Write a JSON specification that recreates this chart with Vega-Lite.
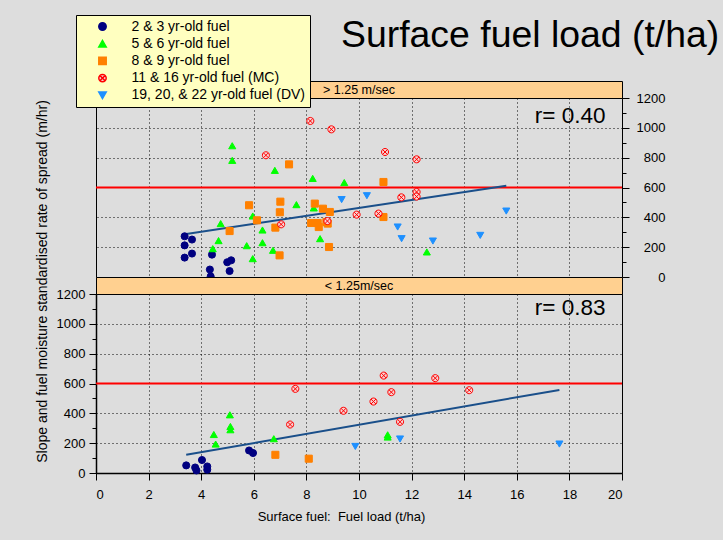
{
  "$schema": "https://vega.github.io/schema/vega-lite/v6.json",
  "background": "#DDDDDD",
  "autosize": {"type": "pad"},
  "padding": {"left": 34, "top": 14, "right": 8, "bottom": 16},
  "bounds": "flush",
  "spacing": 0,
  "config": {
    "font": "Liberation Sans",
    "view": {"stroke": "black", "strokeWidth": 1},
    "axis": {"labelFont": "Liberation Sans", "titleFont": "Liberation Sans", "labelColor": "black", "titleColor": "black", "domainColor": "black", "tickColor": "black", "titleFontWeight": "normal", "labelFontSize": 13, "labelOverlap": false},
    "concat": {"spacing": 0}
  },
  "datasets": {
    "strips": [
      {"p": "top", "label": "> 1.25 m/sec"},
      {"p": "bottom", "label": "< 1.25m/sec"}
    ],
    "refs": [
      {"p": "top", "y": 600},
      {"p": "bottom", "y": 600}
    ],
    "fits": [
      {"p": "top", "x": 3.37, "y": 287},
      {"p": "top", "x": 15.6, "y": 612},
      {"p": "bottom", "x": 3.43, "y": 122},
      {"p": "bottom", "x": 17.62, "y": 557}
    ],
    "rlabels": [
      {"p": "top", "x": 19.37, "y": 1032, "t": "r= 0.40"},
      {"p": "bottom", "x": 19.37, "y": 1060, "t": "r= 0.83"}
    ],
    "pts": [
      {"p": "top", "s": "2 & 3 yr-old fuel", "x": 3.37, "y": 273},
      {"p": "top", "s": "2 & 3 yr-old fuel", "x": 3.65, "y": 251},
      {"p": "top", "s": "2 & 3 yr-old fuel", "x": 3.37, "y": 212},
      {"p": "top", "s": "2 & 3 yr-old fuel", "x": 3.65, "y": 157},
      {"p": "top", "s": "2 & 3 yr-old fuel", "x": 3.37, "y": 130},
      {"p": "top", "s": "2 & 3 yr-old fuel", "x": 4.41, "y": 150},
      {"p": "top", "s": "2 & 3 yr-old fuel", "x": 4.99, "y": 99},
      {"p": "top", "s": "2 & 3 yr-old fuel", "x": 5.14, "y": 112},
      {"p": "top", "s": "2 & 3 yr-old fuel", "x": 5.08, "y": 40},
      {"p": "top", "s": "2 & 3 yr-old fuel", "x": 4.33, "y": 50},
      {"p": "top", "s": "2 & 3 yr-old fuel", "x": 4.36, "y": 4},
      {"p": "top", "s": "5 & 6 yr-old fuel", "x": 5.18, "y": 880},
      {"p": "top", "s": "5 & 6 yr-old fuel", "x": 5.18, "y": 782},
      {"p": "top", "s": "5 & 6 yr-old fuel", "x": 6.8, "y": 715},
      {"p": "top", "s": "5 & 6 yr-old fuel", "x": 8.24, "y": 661},
      {"p": "top", "s": "5 & 6 yr-old fuel", "x": 9.44, "y": 633},
      {"p": "top", "s": "5 & 6 yr-old fuel", "x": 7.62, "y": 485},
      {"p": "top", "s": "5 & 6 yr-old fuel", "x": 8.28, "y": 463},
      {"p": "top", "s": "5 & 6 yr-old fuel", "x": 5.96, "y": 409},
      {"p": "top", "s": "5 & 6 yr-old fuel", "x": 4.74, "y": 358},
      {"p": "top", "s": "5 & 6 yr-old fuel", "x": 6.33, "y": 315},
      {"p": "top", "s": "5 & 6 yr-old fuel", "x": 4.66, "y": 244},
      {"p": "top", "s": "5 & 6 yr-old fuel", "x": 6.33, "y": 230},
      {"p": "top", "s": "5 & 6 yr-old fuel", "x": 5.73, "y": 210},
      {"p": "top", "s": "5 & 6 yr-old fuel", "x": 4.44, "y": 190},
      {"p": "top", "s": "5 & 6 yr-old fuel", "x": 6.73, "y": 179},
      {"p": "top", "s": "5 & 6 yr-old fuel", "x": 5.96, "y": 123},
      {"p": "top", "s": "5 & 6 yr-old fuel", "x": 8.52, "y": 257},
      {"p": "top", "s": "5 & 6 yr-old fuel", "x": 12.58, "y": 168},
      {"p": "top", "s": "8 & 9 yr-old fuel", "x": 7.34, "y": 755},
      {"p": "top", "s": "8 & 9 yr-old fuel", "x": 5.82, "y": 481},
      {"p": "top", "s": "8 & 9 yr-old fuel", "x": 7.01, "y": 505},
      {"p": "top", "s": "8 & 9 yr-old fuel", "x": 6.99, "y": 434},
      {"p": "top", "s": "8 & 9 yr-old fuel", "x": 8.32, "y": 492},
      {"p": "top", "s": "8 & 9 yr-old fuel", "x": 8.63, "y": 458},
      {"p": "top", "s": "8 & 9 yr-old fuel", "x": 8.89, "y": 436},
      {"p": "top", "s": "8 & 9 yr-old fuel", "x": 6.12, "y": 380},
      {"p": "top", "s": "8 & 9 yr-old fuel", "x": 6.82, "y": 331},
      {"p": "top", "s": "8 & 9 yr-old fuel", "x": 5.08, "y": 308},
      {"p": "top", "s": "8 & 9 yr-old fuel", "x": 8.18, "y": 362},
      {"p": "top", "s": "8 & 9 yr-old fuel", "x": 8.43, "y": 362},
      {"p": "top", "s": "8 & 9 yr-old fuel", "x": 8.76, "y": 369},
      {"p": "top", "s": "8 & 9 yr-old fuel", "x": 8.47, "y": 335},
      {"p": "top", "s": "8 & 9 yr-old fuel", "x": 8.81, "y": 358},
      {"p": "top", "s": "8 & 9 yr-old fuel", "x": 6.98, "y": 145},
      {"p": "top", "s": "8 & 9 yr-old fuel", "x": 8.86, "y": 201},
      {"p": "top", "s": "8 & 9 yr-old fuel", "x": 10.93, "y": 637},
      {"p": "top", "s": "8 & 9 yr-old fuel", "x": 10.93, "y": 402},
      {"p": "top", "s": "11 & 16 yr-old fuel (MC)", "x": 8.15, "y": 1046},
      {"p": "top", "s": "11 & 16 yr-old fuel (MC)", "x": 8.95, "y": 990},
      {"p": "top", "s": "11 & 16 yr-old fuel (MC)", "x": 6.46, "y": 816},
      {"p": "top", "s": "11 & 16 yr-old fuel (MC)", "x": 9.91, "y": 418},
      {"p": "top", "s": "11 & 16 yr-old fuel (MC)", "x": 7.04, "y": 353},
      {"p": "top", "s": "11 & 16 yr-old fuel (MC)", "x": 10.99, "y": 838},
      {"p": "top", "s": "11 & 16 yr-old fuel (MC)", "x": 12.19, "y": 789},
      {"p": "top", "s": "11 & 16 yr-old fuel (MC)", "x": 12.19, "y": 570},
      {"p": "top", "s": "11 & 16 yr-old fuel (MC)", "x": 12.19, "y": 539},
      {"p": "top", "s": "11 & 16 yr-old fuel (MC)", "x": 11.61, "y": 534},
      {"p": "top", "s": "11 & 16 yr-old fuel (MC)", "x": 10.74, "y": 425},
      {"p": "top", "s": "11 & 16 yr-old fuel (MC)", "x": 8.8, "y": 375},
      {"p": "top", "s": "19, 20, & 22 yr-old fuel (DV)", "x": 9.34, "y": 519},
      {"p": "top", "s": "19, 20, & 22 yr-old fuel (DV)", "x": 10.3, "y": 545},
      {"p": "top", "s": "19, 20, & 22 yr-old fuel (DV)", "x": 11.47, "y": 335},
      {"p": "top", "s": "19, 20, & 22 yr-old fuel (DV)", "x": 11.62, "y": 257},
      {"p": "top", "s": "19, 20, & 22 yr-old fuel (DV)", "x": 12.81, "y": 241},
      {"p": "top", "s": "19, 20, & 22 yr-old fuel (DV)", "x": 14.61, "y": 279},
      {"p": "top", "s": "19, 20, & 22 yr-old fuel (DV)", "x": 15.6, "y": 442},
      {"p": "bottom", "s": "2 & 3 yr-old fuel", "x": 3.43, "y": 51},
      {"p": "bottom", "s": "2 & 3 yr-old fuel", "x": 3.77, "y": 37},
      {"p": "bottom", "s": "2 & 3 yr-old fuel", "x": 3.82, "y": 17},
      {"p": "bottom", "s": "2 & 3 yr-old fuel", "x": 4.03, "y": 87},
      {"p": "bottom", "s": "2 & 3 yr-old fuel", "x": 4.23, "y": 44},
      {"p": "bottom", "s": "2 & 3 yr-old fuel", "x": 4.23, "y": 22},
      {"p": "bottom", "s": "2 & 3 yr-old fuel", "x": 5.82, "y": 151},
      {"p": "bottom", "s": "2 & 3 yr-old fuel", "x": 5.97, "y": 134},
      {"p": "bottom", "s": "5 & 6 yr-old fuel", "x": 5.09, "y": 390},
      {"p": "bottom", "s": "5 & 6 yr-old fuel", "x": 5.11, "y": 312},
      {"p": "bottom", "s": "5 & 6 yr-old fuel", "x": 5.11, "y": 290},
      {"p": "bottom", "s": "5 & 6 yr-old fuel", "x": 4.48, "y": 258},
      {"p": "bottom", "s": "5 & 6 yr-old fuel", "x": 4.55, "y": 194},
      {"p": "bottom", "s": "5 & 6 yr-old fuel", "x": 6.76, "y": 230},
      {"p": "bottom", "s": "5 & 6 yr-old fuel", "x": 11.09, "y": 256},
      {"p": "bottom", "s": "5 & 6 yr-old fuel", "x": 11.09, "y": 241},
      {"p": "bottom", "s": "8 & 9 yr-old fuel", "x": 6.82, "y": 122},
      {"p": "bottom", "s": "8 & 9 yr-old fuel", "x": 8.09, "y": 96},
      {"p": "bottom", "s": "11 & 16 yr-old fuel (MC)", "x": 7.58, "y": 564},
      {"p": "bottom", "s": "11 & 16 yr-old fuel (MC)", "x": 7.38, "y": 325},
      {"p": "bottom", "s": "11 & 16 yr-old fuel (MC)", "x": 9.41, "y": 417},
      {"p": "bottom", "s": "11 & 16 yr-old fuel (MC)", "x": 10.94, "y": 653},
      {"p": "bottom", "s": "11 & 16 yr-old fuel (MC)", "x": 12.9, "y": 636},
      {"p": "bottom", "s": "11 & 16 yr-old fuel (MC)", "x": 11.23, "y": 542},
      {"p": "bottom", "s": "11 & 16 yr-old fuel (MC)", "x": 10.55, "y": 479},
      {"p": "bottom", "s": "11 & 16 yr-old fuel (MC)", "x": 14.19, "y": 555},
      {"p": "bottom", "s": "11 & 16 yr-old fuel (MC)", "x": 11.56, "y": 343},
      {"p": "bottom", "s": "19, 20, & 22 yr-old fuel (DV)", "x": 9.86, "y": 178},
      {"p": "bottom", "s": "19, 20, & 22 yr-old fuel (DV)", "x": 11.56, "y": 228},
      {"p": "bottom", "s": "19, 20, & 22 yr-old fuel (DV)", "x": 17.62, "y": 194}
    ]
  },
  "resolve": {"scale": {"x": "independent", "y": "independent"}},
  "vconcat": [
    {
      "width": 526,
      "height": 17,
      "title": {"text": "Surface fuel load (t/ha)", "anchor": "start", "dx": 245, "fontSize": 37.4, "fontWeight": "normal", "font": "Liberation Sans", "baseline": "alphabetic", "offset": -3, "color": "black"},
      "view": {"fill": "#FFD090", "stroke": "black"},
      "data": {"name": "strips"},
      "transform": [{"filter": "datum.p === 'top'"}],
      "mark": {"type": "text", "fontSize": 12.5, "color": "black", "font": "Liberation Sans"},
      "encoding": {"text": {"field": "label", "type": "nominal"}}
    },
    {
      "width": 526,
      "height": 179,
      "resolve": {"axis": {"y": "independent"}},
      "layer": [
        {
          "data": {"name": "refs"},
          "transform": [{"filter": "datum.p === 'top'"}],
          "mark": {"type": "rule", "color": "#FF0000", "strokeWidth": 2},
          "encoding": {
            "y": {"field": "y", "type": "quantitative", "scale": {"domain": [0, 1200], "nice": false},
              "axis": {"orient": "right", "title": null, "format": "d", "values": [0,200,400,600,800,1000,1200],
                "labelOverlap": false, "tickSize": 7,
                "grid": true, "gridColor": "black", "gridDash": [1, 3], "gridWidth": 1,
                "gridOpacity": {"condition": {"test": "datum.value > 0 && datum.value < 1200 && datum.value !== 600", "value": 1}, "value": 0},
                "labelAlign": "right", "labelPadding": 36, "domain": false}}
          }
        },
        {
          "data": {"name": "fits"},
          "transform": [{"filter": "datum.p === 'top'"}],
          "mark": {"type": "line", "color": "#1A4F8A", "strokeWidth": 2},
          "encoding": {
            "x": {"field": "x", "type": "quantitative", "scale": {"domain": [0, 20], "nice": false},
              "axis": {"title": null, "values": [0,2,4,6,8,10,12,14,16,18,20], "labels": false, "ticks": false, "domain": false,
                "grid": true, "gridColor": "black", "gridDash": [1, 3], "gridWidth": 1,
                "gridOpacity": {"condition": {"test": "datum.value > 0 && datum.value < 20", "value": 1}, "value": 0}}},
            "y": {"field": "y", "type": "quantitative",
              "axis": {"orient": "right", "title": null, "values": [100,300,500,700,900,1100], "labels": false, "tickSize": 4, "grid": false, "domain": false}}
          }
        },
        {
          "data": {"name": "pts"},
          "transform": [{"filter": "datum.p === 'top'"}],
          "mark": {"type": "point", "opacity": 1, "strokeWidth": 1, "size": 50},
          "encoding": {
            "x": {"field": "x", "type": "quantitative"},
            "y": {"field": "y", "type": "quantitative", "axis": null},
            "shape": {"field": "s", "type": "nominal",
              "scale": {"domain": ["2 & 3 yr-old fuel", "5 & 6 yr-old fuel", "8 & 9 yr-old fuel", "11 & 16 yr-old fuel (MC)", "19, 20, & 22 yr-old fuel (DV)"],
                "range": ["circle", "triangle-up", "square", "M-1,0A1,1,0,1,1,1,0A1,1,0,1,1,-1,0ZM-0.7,-0.7L0.7,0.7M-0.7,0.7L0.7,-0.7", "triangle-down"]},
              "legend": {"orient": "none", "legendX": -20, "legendY": -66, "title": null, "fillColor": "#FFFFC0", "strokeColor": "black",
                "padding": 4.5, "labelFontSize": 14, "labelFont": "Liberation Sans", "labelColor": "black", "symbolSize": 55,
                "rowPadding": 3.2, "symbolOffset": 15, "labelOffset": 22, "labelLimit": 400}},
            "fill": {"field": "s", "type": "nominal",
              "scale": {"domain": ["2 & 3 yr-old fuel", "5 & 6 yr-old fuel", "8 & 9 yr-old fuel", "11 & 16 yr-old fuel (MC)", "19, 20, & 22 yr-old fuel (DV)"],
                "range": ["#000080", "#00FF00", "#FF8000", "#F6D2D2", "#1E90FF"]}},
            "stroke": {"field": "s", "type": "nominal",
              "scale": {"domain": ["2 & 3 yr-old fuel", "5 & 6 yr-old fuel", "8 & 9 yr-old fuel", "11 & 16 yr-old fuel (MC)", "19, 20, & 22 yr-old fuel (DV)"],
                "range": ["#000080", "#00FF00", "#FF8000", "#FF0000", "#1E90FF"]}}
          }
        },
        {
          "data": {"name": "rlabels"},
          "transform": [{"filter": "datum.p === 'top'"}],
          "mark": {"type": "text", "align": "right", "baseline": "alphabetic", "fontSize": 22.5, "color": "black", "font": "Liberation Sans"},
          "encoding": {
            "x": {"field": "x", "type": "quantitative"},
            "y": {"field": "y", "type": "quantitative", "axis": null},
            "text": {"field": "t", "type": "nominal"}
          }
        }
      ]
    },
    {
      "width": 526,
      "height": 17,
      "view": {"fill": "#FFD090", "stroke": "black"},
      "data": {"name": "strips"},
      "transform": [{"filter": "datum.p === 'bottom'"}],
      "mark": {"type": "text", "fontSize": 12.5, "color": "black", "font": "Liberation Sans"},
      "encoding": {"text": {"field": "label", "type": "nominal"}}
    },
    {
      "width": 526,
      "height": 179,
      "resolve": {"axis": {"y": "independent"}},
      "layer": [
        {
          "data": {"name": "refs"},
          "transform": [{"filter": "datum.p === 'bottom'"}],
          "mark": {"type": "rule", "color": "#FF0000", "strokeWidth": 2},
          "encoding": {
            "y": {"field": "y", "type": "quantitative", "scale": {"domain": [0, 1200], "nice": false},
              "axis": {"orient": "left", "title": "Slope and fuel moisture standardised rate of spread (m/hr)", "titleFontSize": 14, "format": "d",
                "titleX": -54, "titleY": -13, "titleAlign": "center", "titleBaseline": "middle", "titleAngle": 270,
                "values": [0,200,400,600,800,1000,1200], "labelOverlap": false, "tickSize": 7,
                "grid": true, "gridColor": "black", "gridDash": [1, 3], "gridWidth": 1,
                "gridOpacity": {"condition": {"test": "datum.value > 0 && datum.value < 1200 && datum.value !== 600", "value": 1}, "value": 0},
                "labelPadding": 4, "domain": true, "domainWidth": 1.5}}
          }
        },
        {
          "data": {"name": "fits"},
          "transform": [{"filter": "datum.p === 'bottom'"}],
          "mark": {"type": "line", "color": "#1A4F8A", "strokeWidth": 2},
          "encoding": {
            "x": {"field": "x", "type": "quantitative", "scale": {"domain": [0, 20], "nice": false},
              "axis": {"title": "Surface fuel:\u00a0 Fuel load (t/ha)", "titleFontSize": 13, "titleX": 245, "titleY": 47.7, "titleAlign": "center", "titleBaseline": "alphabetic",
                "values": [0,1,2,3,4,5,6,7,8,9,10,11,12,13,14,15,16,17,18,19,20],
                "labelExpr": "datum.value % 2 === 0 ? datum.label : ''", "labelOverlap": false,
                "tickSize": {"condition": {"test": "datum.value % 2 === 0", "value": 7}, "value": 4},
                "labelPadding": 8, "domain": true, "domainWidth": 1.5,
                "grid": true, "gridColor": "black", "gridDash": [1, 3], "gridWidth": 1,
                "gridOpacity": {"condition": {"test": "datum.value % 2 === 0 && datum.value > 0 && datum.value < 20", "value": 1}, "value": 0}}},
            "y": {"field": "y", "type": "quantitative",
              "axis": {"orient": "left", "title": null, "values": [100,300,500,700,900,1100], "labels": false, "tickSize": 4, "grid": false, "domain": false}}
          }
        },
        {
          "data": {"name": "pts"},
          "transform": [{"filter": "datum.p === 'bottom'"}],
          "mark": {"type": "point", "opacity": 1, "strokeWidth": 1, "size": 50},
          "encoding": {
            "x": {"field": "x", "type": "quantitative"},
            "y": {"field": "y", "type": "quantitative", "axis": null},
            "shape": {"field": "s", "type": "nominal"},
            "fill": {"field": "s", "type": "nominal"},
            "stroke": {"field": "s", "type": "nominal"}
          }
        },
        {
          "data": {"name": "rlabels"},
          "transform": [{"filter": "datum.p === 'bottom'"}],
          "mark": {"type": "text", "align": "right", "baseline": "alphabetic", "fontSize": 22.5, "color": "black", "font": "Liberation Sans"},
          "encoding": {
            "x": {"field": "x", "type": "quantitative"},
            "y": {"field": "y", "type": "quantitative", "axis": null},
            "text": {"field": "t", "type": "nominal"}
          }
        }
      ]
    }
  ]
}
